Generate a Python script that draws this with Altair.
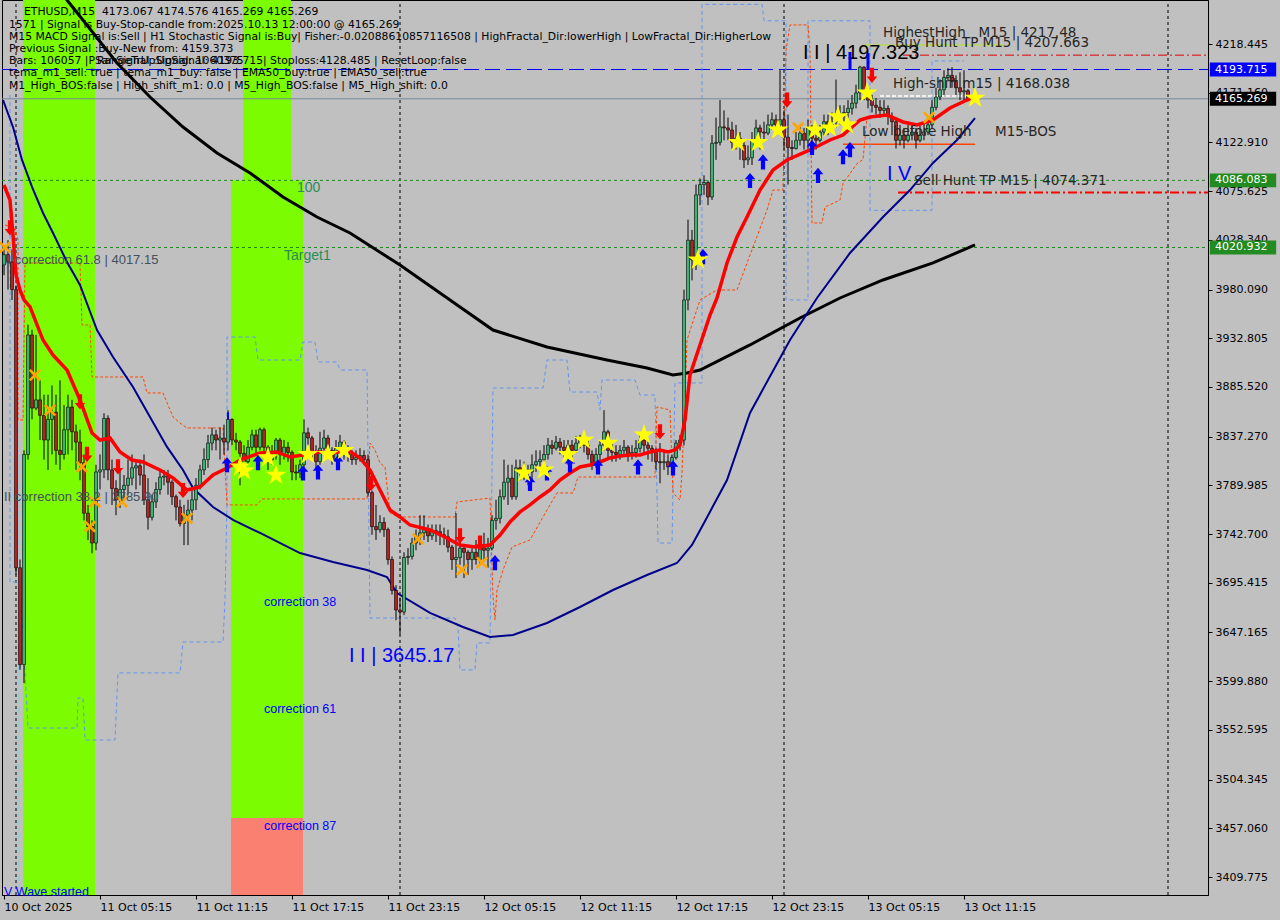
import json
import altair as alt
import pandas as pd

# ETHUSD M15 candles. Bar 0 opens 10 Oct 2025 23:15, one bar every 15 minutes.
bar_open = [
    4004, 4014, 4007, 3980, 3710, 3616, 3820, 3936, 3865, 3873,
    3858, 3834, 3854, 3861, 3824, 3820, 3844, 3866, 3842, 3832,
    3812, 3763, 3750, 3734, 3803, 3805, 3855, 3805, 3787, 3776,
    3786, 3790, 3797, 3807, 3809, 3800, 3776, 3759, 3774, 3786,
    3798, 3799, 3793, 3779, 3769, 3753, 3761, 3766, 3776, 3790,
    3805, 3815, 3831, 3839, 3834, 3836, 3832, 3854, 3834, 3832,
    3821, 3813, 3827, 3839, 3827, 3844, 3827, 3815, 3820, 3834,
    3820, 3827, 3822, 3803, 3802, 3810, 3841, 3836, 3822, 3813,
    3826, 3836, 3824, 3815, 3826, 3832, 3822, 3820, 3815, 3817,
    3819, 3815, 3783, 3750, 3747, 3754, 3747, 3718, 3688, 3669,
    3667, 3720, 3721, 3734, 3740, 3744, 3747, 3741, 3746, 3745,
    3742, 3740, 3730, 3718, 3720, 3729, 3725, 3718, 3725, 3718,
    3732, 3727, 3729, 3756, 3758, 3779, 3793, 3797, 3779, 3807,
    3802, 3805, 3803, 3810, 3813, 3815, 3820, 3829, 3826, 3832,
    3827, 3824, 3829, 3824, 3831, 3836, 3829, 3820, 3812, 3820,
    3829, 3842, 3824, 3822, 3820, 3824, 3827, 3819, 3822, 3826,
    3834, 3829, 3826, 3822, 3813, 3812, 3813, 3808, 3817, 3831,
    3834, 3970, 4028, 4009, 4072, 4082, 4084, 4070, 4122, 4123,
    4138, 4137, 4135, 4123, 4127, 4120, 4106, 4108, 4125, 4137,
    4133, 4132, 4140, 4145, 4140, 4145, 4128, 4118, 4117, 4125,
    4132, 4125, 4137, 4127, 4125, 4133, 4143, 4139, 4143, 4150,
    4151, 4152, 4156, 4161, 4171, 4196, 4171, 4164, 4159, 4157,
    4154, 4156, 4148, 4143, 4125, 4130, 4125, 4130, 4133, 4125,
    4130, 4133, 4140, 4157, 4167, 4174, 4186, 4188, 4182, 4176,
    4172, 4173.067,
]
bar_high = [
    4023, 4028, 4019, 3984, 3718, 3824, 3946, 3941, 3936, 3892,
    3878, 3878, 3887, 3878, 3892, 3868, 3878, 3873, 3849, 3844,
    3820, 3771, 3756, 3810, 3820, 3860, 3858, 3815, 3795, 3805,
    3800, 3815, 3820, 3815, 3815, 3820, 3797, 3781, 3793, 3805,
    3805, 3805, 3795, 3781, 3776, 3771, 3776, 3786, 3797, 3810,
    3826, 3839, 3846, 3844, 3846, 3849, 3863, 3855, 3841, 3834,
    3829, 3834, 3844, 3844, 3846, 3846, 3829, 3829, 3836, 3836,
    3834, 3832, 3824, 3810, 3815, 3854, 3846, 3838, 3829, 3842,
    3844, 3839, 3827, 3834, 3839, 3834, 3829, 3824, 3824, 3826,
    3824, 3820, 3785, 3771, 3761, 3759, 3749, 3721, 3693, 3681,
    3725, 3729, 3739, 3747, 3761, 3761, 3752, 3752, 3752, 3752,
    3749, 3747, 3732, 3763, 3737, 3732, 3727, 3729, 3737, 3739,
    3744, 3739, 3761, 3776, 3786, 3815, 3810, 3810, 3815, 3815,
    3813, 3810, 3820, 3824, 3824, 3829, 3836, 3834, 3838, 3836,
    3834, 3834, 3834, 3838, 3839, 3838, 3834, 3824, 3826, 3834,
    3863, 3844, 3832, 3829, 3829, 3834, 3829, 3829, 3834, 3839,
    3836, 3834, 3829, 3826, 3831, 3824, 3820, 3820, 3834, 3839,
    3980, 4048, 4038, 4082, 4088, 4091, 4086, 4130, 4147, 4164,
    4154, 4147, 4143, 4140, 4133, 4125, 4120, 4133, 4145, 4140,
    4143, 4150, 4152, 4150, 4193, 4154, 4150, 4125, 4133, 4140,
    4137, 4145, 4140, 4140, 4140, 4150, 4150, 4152, 4184, 4159,
    4159, 4164, 4169, 4179, 4197.323, 4197, 4174, 4169, 4166, 4164,
    4164, 4159, 4152, 4147, 4140, 4137, 4140, 4140, 4137, 4140,
    4143, 4147, 4164, 4176, 4184, 4193, 4195, 4196, 4188, 4191,
    4193, 4174.576,
]
bar_low = [
    3994, 3980, 3970, 3703, 3611, 3598, 3815, 3854, 3863, 3834,
    3815, 3805, 3820, 3810, 3805, 3815, 3820, 3824, 3805, 3795,
    3756, 3737, 3724, 3727, 3786, 3797, 3795, 3771, 3761, 3768,
    3776, 3781, 3790, 3786, 3790, 3771, 3747, 3756, 3768, 3781,
    3790, 3781, 3771, 3756, 3750, 3732, 3732, 3756, 3766, 3786,
    3800, 3807, 3824, 3824, 3815, 3820, 3824, 3829, 3824, 3790,
    3805, 3810, 3824, 3820, 3824, 3820, 3805, 3810, 3815, 3810,
    3815, 3813, 3795, 3795, 3797, 3805, 3829, 3817, 3805, 3810,
    3824, 3817, 3810, 3813, 3820, 3815, 3813, 3810, 3810, 3813,
    3810, 3779, 3742, 3737, 3744, 3740, 3713, 3684, 3659, 3645.17,
    3664, 3713, 3718, 3727, 3732, 3737, 3735, 3737, 3735, 3732,
    3732, 3725, 3708, 3700, 3713, 3700, 3703, 3708, 3713, 3713,
    3716, 3710, 3727, 3747, 3753, 3776, 3771, 3776, 3776, 3795,
    3795, 3790, 3795, 3803, 3805, 3810, 3815, 3820, 3824, 3820,
    3817, 3810, 3817, 3822, 3826, 3822, 3815, 3805, 3807, 3810,
    3824, 3815, 3813, 3813, 3815, 3820, 3813, 3815, 3817, 3822,
    3820, 3815, 3813, 3805, 3792, 3805, 3800, 3805, 3815, 3824,
    3829, 3960, 3989, 3999, 4062, 4072, 4062, 4067, 4106, 4120,
    4125, 4125, 4117, 4116, 4106, 4098, 4101, 4101, 4120, 4116,
    4125, 4130, 4135, 4130, 4130, 4116, 4082, 4106, 4116, 4120,
    4116, 4117, 4116, 4116, 4123, 4130, 4130, 4135, 4137, 4140,
    4143, 4147, 4150, 4156, 4164, 4164, 4156, 4152, 4150, 4147,
    4150, 4140, 4130, 4117, 4120, 4117, 4123, 4125, 4117, 4123,
    4125, 4130, 4137, 4154, 4164, 4169, 4182, 4176, 4169, 4164,
    4162, 4165.269,
]
bar_close = [
    4014, 4007, 3980, 3710, 3616, 3820, 3936, 3865, 3873, 3858,
    3834, 3854, 3861, 3824, 3820, 3844, 3866, 3842, 3832, 3812,
    3763, 3750, 3734, 3803, 3805, 3855, 3805, 3787, 3776, 3786,
    3790, 3797, 3807, 3809, 3800, 3776, 3759, 3774, 3786, 3798,
    3799, 3793, 3779, 3769, 3753, 3761, 3766, 3776, 3790, 3805,
    3815, 3831, 3839, 3834, 3836, 3832, 3854, 3834, 3832, 3821,
    3813, 3827, 3839, 3827, 3844, 3827, 3815, 3820, 3834, 3820,
    3827, 3822, 3803, 3802, 3810, 3841, 3836, 3822, 3813, 3826,
    3836, 3824, 3815, 3826, 3832, 3822, 3820, 3815, 3817, 3819,
    3815, 3783, 3750, 3747, 3754, 3747, 3718, 3688, 3669, 3667,
    3720, 3721, 3734, 3740, 3744, 3747, 3741, 3746, 3745, 3742,
    3740, 3730, 3718, 3720, 3729, 3725, 3718, 3725, 3718, 3732,
    3727, 3729, 3756, 3758, 3779, 3793, 3797, 3779, 3807, 3802,
    3805, 3803, 3810, 3813, 3815, 3820, 3829, 3826, 3832, 3827,
    3824, 3829, 3824, 3831, 3836, 3829, 3820, 3812, 3820, 3829,
    3842, 3824, 3822, 3820, 3824, 3827, 3819, 3822, 3826, 3834,
    3829, 3826, 3822, 3813, 3812, 3813, 3808, 3817, 3831, 3834,
    3970, 4028, 4009, 4072, 4082, 4084, 4070, 4122, 4123, 4138,
    4137, 4135, 4123, 4127, 4120, 4106, 4108, 4125, 4137, 4133,
    4132, 4140, 4145, 4140, 4145, 4128, 4118, 4117, 4125, 4132,
    4125, 4137, 4127, 4125, 4133, 4143, 4139, 4143, 4150, 4151,
    4152, 4156, 4161, 4171, 4196, 4171, 4164, 4159, 4157, 4154,
    4156, 4148, 4143, 4125, 4130, 4125, 4130, 4133, 4125, 4130,
    4133, 4140, 4157, 4167, 4174, 4186, 4188, 4182, 4176, 4172,
    4173.067, 4165.269,
]

# Moving averages (bar position, price)
ema_fast_bar = [0, 1.5, 2.25, 3, 4, 5, 6.5, 9.75, 12.25, 15.75, 19, 22, 24, 26.5, 29, 32,
                34.75, 39, 42.25, 45.75, 49, 52.25, 55.75, 59, 64, 68.25, 71.5, 74.75,
                78.25, 82.25, 86, 89, 91.5, 94, 96.5, 99, 101.5, 106.5, 110.25, 114,
                117.75, 121.5, 124, 126.5, 129, 131.5, 134, 136.5, 139, 141.5, 144,
                146.5, 149, 151.5, 154, 156.5, 159, 161.5, 164, 166, 167.75, 169,
                170.25, 171.5, 174, 176.5, 178.25, 180.75, 183.25, 185.75, 189, 192.25,
                195.75, 201.5, 206.5, 209.75, 214, 216.5, 220.75, 224.75, 228.25,
                232.25, 236.5, 240.75, 242]
ema_fast_px = [4081.6, 4067.0, 4033.1, 3994.2, 3979.7, 3970.0, 3963.2, 3931.1, 3916.5,
               3902.0, 3872.9, 3840.8, 3834.0, 3836.0, 3822.4, 3814.6, 3812.7, 3804.9,
               3797.2, 3785.5, 3788.4, 3800.1, 3806.9, 3814.6, 3821.4, 3822.4, 3817.5,
               3819.5, 3822.4, 3821.4, 3824.3, 3816.6, 3804.9, 3785.5, 3766.1, 3759.3,
               3751.5, 3746.7, 3739.9, 3732.1, 3730.2, 3732.1, 3741.8, 3754.4, 3764.2,
               3771.0, 3778.7, 3785.5, 3795.2, 3802.0, 3807.8, 3809.8, 3812.7, 3816.6,
               3818.5, 3819.5, 3819.5, 3822.4, 3824.3, 3822.4, 3824.3, 3829.2, 3853.5,
               3897.2, 3926.3, 3955.4, 3971.9, 4005.9, 4031.1, 4050.5, 4076.7, 4096.2,
               4105.9, 4115.6, 4125.3, 4130.1, 4144.7, 4147.6, 4149.6, 4142.8, 4139.9,
               4144.7, 4156.4, 4164.1, 4166.1]

ema_mid_bar = [-0.25, 2.25, 4.5, 7, 9.75, 12.25, 15.75, 19, 23.25, 27.25, 32.25, 36.5,
               40.75, 44.75, 47.25, 52.25, 57.25, 64, 74, 82.25, 90.75, 95.75, 98.25,
               106.5, 114.75, 121.5, 127.25, 135.75, 144, 152.25, 160.75, 168.25, 172,
               175, 180.75, 186.5, 191, 196.5, 203.25, 211.5, 219.75, 226.5, 232.25,
               238.25, 242.75]
ema_mid_px = [4164.1, 4137.9, 4105.9, 4079.7, 4054.4, 4035.0, 4006.8, 3984.5, 3940.8,
              3914.6, 3885.5, 3856.4, 3827.3, 3804.9, 3787.4, 3769.0, 3756.4, 3743.8,
              3724.3, 3715.6, 3707.8, 3701.0, 3685.5, 3666.1, 3652.5, 3642.8, 3644.7,
              3656.4, 3671.9, 3688.4, 3703.0, 3714.6, 3732.1, 3753.5, 3795.2, 3860.3,
              3892.3, 3931.1, 3971.9, 4015.6, 4050.5, 4076.7, 4103.0, 4125.3, 4146.6]

ema_slow_bar = [10.75, 15.75, 28.25, 36.5, 44.75, 53.25, 61.5, 69.75, 78.25, 86.5, 99,
                111.5, 122.25, 135.75, 150.75, 160.75, 167.25, 170.75, 174, 186.5, 199,
                209, 219.75, 232.25, 242.75]
ema_slow_px = [4290.3, 4261.2, 4200.0, 4167.0, 4137.9, 4112.7, 4093.2, 4069.9, 4050.5,
               4035.0, 4003.9, 3970.0, 3940.8, 3924.3, 3911.7, 3903.9, 3897.1, 3899.1,
               3902.0, 3926.3, 3952.5, 3971.9, 3989.4, 4005.9, 4023.4]

# Fractal step channels (bar position, price), in drawing order
frac_red_bar = [0.25, 2.75, 3.5, 3.5, 4.75, 5.25, 19, 19.5, 21.5, 22, 34.75, 35.75, 39.75,
                41, 42.25, 44, 45.75, 54.75, 55.75, 63.25, 64.5, 90.75, 91.5, 92.75, 94,
                95.25, 96.5, 98.5, 112.75, 113.25, 121.5, 122.25, 122.75, 123.25, 124.75,
                127, 131.5, 134.75, 138.25, 142.25, 143.5, 162.75, 163.25, 166.5, 167.25,
                169, 169.5, 170.75, 174, 178.25, 183.25, 185.75, 190.75, 192.25, 194.75,
                195.5, 196.5, 201, 201.5, 202, 204.5, 205.25, 209, 209.75, 213.25, 214.75,
                215.75]
frac_red_px = [4042.8, 4039.9, 4028.2, 3853.5, 3853.5, 4005.9, 4005.9, 3945.7, 3945.7,
               3895.2, 3895.2, 3879.7, 3879.7, 3868.0, 3856.4, 3850.5, 3845.7, 3845.7,
               3771.0, 3771.0, 3776.8, 3776.8, 3831.1, 3824.3, 3811.7, 3807.8, 3763.2,
               3759.3, 3759.3, 3773.9, 3777.7, 3681.6, 3659.3, 3688.4, 3707.8, 3730.2,
               3737.0, 3759.3, 3782.6, 3782.6, 3798.1, 3798.1, 3866.1, 3863.2, 3782.6,
               3775.8, 3802.0, 3931.1, 3970.0, 3979.7, 3979.7, 4005.9, 4057.3, 4076.7,
               4076.7, 4212.0, 4237.0, 4237.0, 4212.0, 4044.7, 4044.7, 4060.2, 4067.0,
               4083.0, 4102.4, 4106.3, 4147.0]
frac_blue_bar = [1.5, 1.5, 4, 5.25, 6, 18.25, 18.5, 19.75, 20.25, 27.75, 28.5, 44, 44.75,
                 54.75, 55.25, 55.75, 55.75, 62.75, 63.5, 74, 74.75, 77.75, 78.5, 83.25,
                 84, 90.75, 91.5, 112.75, 113.5, 114, 117.75, 118.25, 121.5, 122.25,
                 134.75, 135.75, 140.75, 141.5, 148.25, 149, 149.5, 157.75, 159, 162.75,
                 163.5, 167, 167.75, 174.5, 174.5, 189.5, 190, 195.5, 195.5, 201, 201,
                 216.5, 216.5, 232, 232, 240]
frac_blue_px = [4169.0, 3696.2, 3696.2, 3607.9, 3554.4, 3554.4, 3583.6, 3583.6, 3542.8,
                3542.8, 3607.9, 3607.9, 3637.9, 3637.9, 3678.7, 3775.8, 3934.0, 3934.0,
                3911.7, 3911.7, 3929.2, 3929.2, 3909.8, 3909.8, 3902.0, 3902.0, 3661.2,
                3661.2, 3652.5, 3610.8, 3610.8, 3637.0, 3637.0, 3884.5, 3884.5, 3911.7,
                3911.7, 3880.6, 3880.6, 3863.2, 3892.3, 3892.3, 3877.7, 3877.7, 3734.0,
                3734.0, 3889.4, 3889.4, 4257.0, 4257.0, 4241.0, 4241.0, 3970.0, 3970.0,
                4241.0, 4241.0, 4057.0, 4057.0, 4202.0, 4202.0]

# Signal markers (bar position, price)
star_bar = [59, 60, 66, 68, 76, 81, 85, 130, 135, 141, 145, 151, 160, 173.5, 183.5,
            188.5, 193.5, 202.75, 206.5, 208.5, 210.75, 215.75, 242.75]
star_px = [3808, 3804, 3817, 3800, 3820, 3820, 3824, 3802, 3805, 3820, 3834, 3831, 3839,
           4009, 4123, 4123, 4135, 4135, 4137, 4148, 4140, 4171, 4166]
cross_bar = [0.25, 7.75, 11.5, 19.5, 21.5, 22.75, 29.5, 45.75, 103.5, 114.5, 119.5,
             198.5, 231.25]
cross_px = [4021, 3897, 3863, 3808, 3750, 3774, 3774, 3758, 3738, 3708, 3715, 4137, 4147]
buy_bar = [55.75, 63.5, 74.75, 78.5, 83.5, 122.75, 131.5, 135.75, 141.5, 148.5, 158.5,
           167.25, 174.75, 186.5, 189.75, 202, 203.5, 209.75, 211.5]
buy_px = [3810, 3812, 3802, 3803, 3812, 3715, 3792, 3802, 3810, 3808, 3808, 3807, 4012,
          4086, 4104, 4118, 4091, 4109, 4116]
sell_bar = [1.5, 19, 20.75, 28.5, 44.75, 91.75, 114, 119, 164, 195.75, 217]
sell_px = [4040, 3871, 3820, 3808, 3785, 3792, 3741, 3734, 3842, 4164, 4188]
# Wave-III tick marks at the swing high (bar, top, bottom)
wave_tick_bar = [211.5, 216]
wave_tick_top = [4210.7, 4209.7]
wave_tick_bot = [4193.2, 4194.2]

# Axis ticks
price_ticks = [4218.445, 4171.160, 4122.910, 4075.625, 4028.340, 3980.090, 3932.805,
               3885.520, 3837.270, 3789.985, 3742.700, 3695.415, 3647.165, 3599.880,
               3552.595, 3504.345, 3457.060, 3409.775]
time_labels = ["10 Oct 2025", "11 Oct 05:15", "11 Oct 11:15", "11 Oct 17:15",
               "11 Oct 23:15", "12 Oct 05:15", "12 Oct 11:15", "12 Oct 17:15",
               "12 Oct 23:15", "13 Oct 05:15", "13 Oct 11:15"]
day_breaks = [3, 99, 195, 291]

NB = "\u00a0"
info_lines = [
    "ETHUSD,M15" + NB * 2 + "4173.067 4174.576 4165.269 4165.269",
    "1571 | Signal is Buy-Stop-candle from:2025.10.13 12:00:00 @ 4165.269",
    "M15 MACD Signal is:Sell | H1 Stochastic Signal is:Buy| Fisher:-0.02088610857116508 | HighFractal_Dir:lowerHigh | LowFractal_Dir:HigherLow",
    "Previous Signal :Buy-New from: 4159.373",
    "Bars: 106057 |PSar Signal :UpSignal: 4193.715| Stoploss:4128.485 | ResetLoop:false",
    "tema_m1_sell: true | tema_m1_buy: false | EMA50_buy:true | EMA50_sell:true",
    "M1_High_BOS:false | High_shift_m1: 0.0 | M5_High_BOS:false | M5_High_shift: 0.0",
]
info_overlay = "RangeTrUpSignal: 1060375"

# ---------------------------------------------------------------------------
P_LO, P_HI = 3392.3, 4261.2
B_LO, B_HI = -0.5, 301
FONT = "DejaVu Sans"

xs = alt.Scale(domain=[B_LO, B_HI], nice=False, zero=False, padding=0)
ys = alt.Scale(domain=[P_LO, P_HI], nice=False, zero=False, padding=0)
x_axis = alt.Axis(
    values=list(range(0, 241, 24)),
    labelExpr=json.dumps(time_labels) + "[round(datum.value / 24)]",
    labelAlign="left", labelPadding=2, labelFont=FONT, labelFontSize=11,
    labelColor="black", tickColor="black", tickSize=4, domainColor="black",
    grid=False, labelOverlap=False, labelFlush=False,
)
y_axis = alt.Axis(
    orient="right", values=price_ticks, format=".3f", labelAlign="left",
    labelPadding=3, labelFont=FONT, labelFontSize=11, labelColor="black",
    tickColor="black", tickSize=4, domainColor="black", grid=False,
    labelOverlap=False, labelFlush=False,
)


def X(field):
    return alt.X(f"{field}:Q", scale=xs, axis=x_axis, title=None)


def Y(field):
    return alt.Y(f"{field}:Q", scale=ys, axis=y_axis, title=None)


def level(price, b0, b1, color, width=1, dash=None):
    mark = dict(color=color, strokeWidth=width)
    if dash:
        mark["strokeDash"] = dash
    df = pd.DataFrame({"p": [price], "a": [b0], "b": [b1]})
    return alt.Chart(df).mark_rule(**mark).encode(x=X("a"), x2="b", y=Y("p"))


def vline(bar, p0, p1, color, width=1, dash=None):
    mark = dict(color=color, strokeWidth=width)
    if dash:
        mark["strokeDash"] = dash
    df = pd.DataFrame({"b": [bar], "p0": [p0], "p1": [p1]})
    return alt.Chart(df).mark_rule(**mark).encode(x=X("b"), y=Y("p0"), y2="p1")


def band(b0, b1, p0, p1, color):
    df = pd.DataFrame({"a": [b0], "b": [b1], "p0": [p0], "p1": [p1]})
    return alt.Chart(df).mark_rect(color=color).encode(x=X("a"), x2="b", y=Y("p0"), y2="p1")


def path(bars, prices, color, width, dash=None, clip=False):
    mark = dict(color=color, strokeWidth=width, clip=clip, interpolate="linear")
    if dash:
        mark["strokeDash"] = dash
    df = pd.DataFrame({"b": bars, "p": prices, "k": range(len(bars))})
    return alt.Chart(df).mark_line(**mark).encode(x=X("b"), y=Y("p"), order="k:Q")


def symbols(bars, prices, shape, size, color):
    df = pd.DataFrame({"b": bars, "p": prices})
    return alt.Chart(df).mark_point(shape=shape, size=size, filled=True, color=color,
                                    opacity=1, strokeWidth=0).encode(x=X("b"), y=Y("p"))


def note(text, bar, price, color, size, font="Liberation Sans", align="left",
         baseline="middle"):
    df = pd.DataFrame({"t": [text], "b": [bar], "p": [price]})
    return alt.Chart(df).mark_text(align=align, baseline=baseline, color=color,
                                   fontSize=size, font=font).encode(
        x=X("b"), y=Y("p"), text="t:N")


def screen_text(text, px, py, color="black", size=10.8, font=FONT):
    df = pd.DataFrame({"t": [text]})
    return alt.Chart(df).mark_text(align="left", baseline="middle", color=color,
                                   fontSize=size, font=font).encode(
        x=alt.value(px), y=alt.value(py), text="t:N")


STAR = ("M0,-1L0.2245,-0.309L0.951,-0.309L0.363,0.118L0.588,0.809L0,0.382L-0.588,0.809"
        "L-0.363,0.118L-0.951,-0.309L-0.2245,-0.309Z")
UP = "M0,-1L0.7,-0.15L0.28,-0.15L0.28,1L-0.28,1L-0.28,-0.15L-0.7,-0.15Z"
DOWN = "M0,1L0.7,0.15L0.28,0.15L0.28,-1L-0.28,-1L-0.28,0.15L-0.7,0.15Z"
XMARK = ("M-1,-0.7L-0.7,-1L0,-0.3L0.7,-1L1,-0.7L0.3,0L1,0.7L0.7,1L0,0.3L-0.7,1L-1,0.7"
         "L-0.3,0Z")
TAG = "M-1,-0.21L1,-0.21L1,0.21L-1,0.21Z"

layers = []

# Session bands
layers += [
    band(4.75, 22.75, P_LO, P_HI, "#7CFC00"),
    band(59.75, 71.75, 4086.083, P_HI, "#7CFC00"),
    band(56.75, 74.75, 3467.1, 4086.083, "#7CFC00"),
    band(56.75, 74.75, P_LO, 3467.1, "#FA8072"),
]

# Day separators
layers += [vline(b, P_LO, P_HI, "black", 1, [3, 3]) for b in day_breaks]
layers.append(vline(3.75, P_LO, 4165.0, "#6FD8E8", 1, [6, 3, 2, 3]))

# Price levels
layers += [
    level(4193.715, B_LO, B_HI, "#0000FF", 1, [15, 6]),
    level(4165.269, B_LO, B_HI, "#778899", 1),
    level(4086.083, B_LO, B_HI, "#1E8B1E", 1, [3, 3]),
    level(4020.932, B_LO, B_HI, "#1E8B1E", 1, [3, 3]),
    level(4207.663, 224.75, B_HI, "#E00000", 1, [9, 3, 2, 3]),
    level(4074.371, 223.5, B_HI, "#FF0000", 2, [9, 3, 2, 3]),
    level(4217.48, 214.75, 250, "#B5E61D", 1),
    level(4168.038, 219, 242, "#FFFFFF", 1.5, [4, 2]),
    level(4121.1, 209.75, 242.75, "#FF4500", 1.5),
]

# Fractal step channels
layers += [
    path(frac_blue_bar, frac_blue_px, "#6495ED", 1, [4, 3], clip=True),
    path(frac_red_bar, frac_red_px, "#FF4500", 1, [3, 2], clip=True),
]

# Slow / medium averages
layers += [
    path(ema_slow_bar, ema_slow_px, "black", 3, clip=True),
    path(ema_mid_bar, ema_mid_px, "#00008B", 2),
]

# Candles
candles = pd.DataFrame({"b": range(len(bar_close)), "o": bar_open, "h": bar_high,
                        "l": bar_low, "c": bar_close})
candles["d"] = ["up" if c >= o else "down" for o, c in zip(bar_open, bar_close)]
layers.append(alt.Chart(candles).mark_rule(color="black", strokeWidth=1).encode(
    x=X("b"), y=Y("l"), y2="h"))
layers.append(vline(56, 3840, 3861, "#0000FF", 2))
layers.append(alt.Chart(candles).mark_bar(size=3, stroke="black", strokeWidth=0.6).encode(
    x=X("b"), y=Y("o"), y2="c",
    color=alt.Color("d:N", scale=alt.Scale(domain=["up", "down"],
                                           range=["#3CB371", "#B22222"]), legend=None)))

# Fast average
layers.append(path(ema_fast_bar, ema_fast_px, "#FF0000", 3.5))

# Signal markers
layers += [
    symbols(cross_bar, cross_px, XMARK, 150, "#FFA500"),
    symbols(buy_bar, buy_px, UP, 230, "#0000FF"),
    symbols(sell_bar, sell_px, DOWN, 230, "#FF0000"),
    symbols(star_bar, star_px, STAR, 480, "#FFFF00"),
]

# Chart annotations
GREY = "#44505C"
DARK = "#262626"
layers += [
    note("100", 73.25, 4078.7, "#2E8B57", 14),
    note("Target1", 70, 4012.7, "#2E8B57", 14),
    note("II correction 61.8 | 4017.15", 0, 4008.8, GREY, 13),
    note("II correction 38.2 | 3785.90", 0, 3778.7, GREY, 13),
    note("correction 38", 65, 3676.8, "#0000FF", 12.5),
    note("correction 61", 65, 3572.9, "#0000FF", 12.5),
    note("correction 87", 65, 3459.3, "#0000FF", 12.5),
    note("V Wave started", 0, 3395.0, "#0000FF", 12.5),
    note("I I | 3645.17", 86.25, 3624.3, "#0000FF", 20),
    note("I I | 4197.323", 199.75, 4209.7, "black", 20),
    note("I V", 220.75, 4092.3, "#0000FF", 20),
    note("HighestHigh" + NB * 3 + "M15 | 4217.48", 219.75, 4229.2, DARK, 13.5, FONT),
    note("Buy Hunt TP M15 | 4207.663", 222.75, 4219.5, DARK, 13.5, FONT),
    note("High-shift m15 | 4168.038", 222.25, 4179.6, DARK, 13.5, FONT),
    note("Low before High", 214.5, 4133.1, DARK, 13.5, FONT),
    note("M15-BOS", 247.75, 4133.1, DARK, 13.5, FONT),
    note("Sell Hunt TP M15 | 4074.371", 227.5, 4085.5, DARK, 13.5, FONT),
]
for b, top, bot in zip(wave_tick_bar, wave_tick_top, wave_tick_bot):
    layers.append(vline(b, bot, top, "#0000FF", 3))

# Status panel
for k, line in enumerate(info_lines):
    layers.append(screen_text(line, 22 if k == 0 else 7, 12.3 + 12.2 * k))
layers.append(screen_text(info_overlay, 95, 61.1))

# Price tags on the right scale
tags = [(4193.715, "#0000FF"), (4165.269, "black"), (4086.083, "#228B22"),
        (4020.932, "#228B22")]
for price, col in tags:
    df = pd.DataFrame({"p": [price], "t": [f"{price:.3f}"]})
    layers.append(alt.Chart(df).mark_point(shape=TAG, size=4400, filled=True, color=col,
                                           opacity=1, strokeWidth=0).encode(
        x=alt.value(1243 - 2), y=Y("p")))
    layers.append(alt.Chart(df).mark_text(align="left", baseline="middle", color="white",
                                          fontSize=11, font=FONT).encode(
        x=alt.value(1215 - 2), y=Y("p"), text="t:N"))

chart = alt.layer(*layers).properties(
    width=1206, height=895,
    autosize=alt.AutoSizeParams(type="none"),
    padding={"left": 2, "top": 0, "right": 72, "bottom": 25},
    background="#C0C0C0",
).configure_view(stroke="black", strokeWidth=1)

chart.save("out.html", embed_options={"renderer": "svg", "actions": False})
